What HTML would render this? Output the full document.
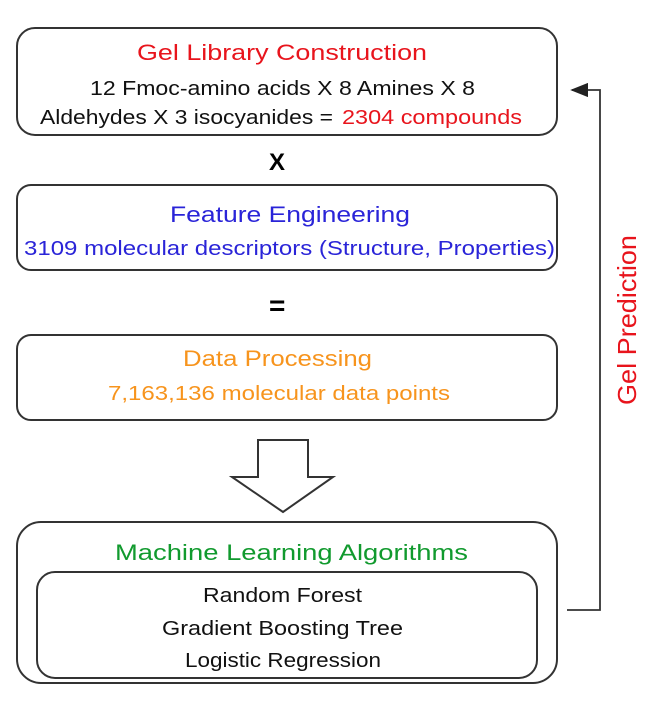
<!DOCTYPE html>
<html><head><style>body{margin:0;background:#fff}</style></head><body>
<svg width="650" height="698" viewBox="0 0 650 698" xmlns="http://www.w3.org/2000/svg" font-family="Liberation Sans, sans-serif">
<defs><marker id="ah" markerWidth="10" markerHeight="8" refX="9" refY="4" orient="auto"><path d="M0,0 L10,4 L0,8 z" fill="#222"/></marker></defs>
<g fill="none" stroke="#333" stroke-width="2">
<rect x="17" y="28" width="540" height="107" rx="18"/>
<rect x="17" y="185" width="540" height="85" rx="14"/>
<rect x="17" y="335" width="540" height="85" rx="14"/>
<rect x="17" y="522" width="540" height="161" rx="24"/>
<rect x="37" y="572" width="500" height="106" rx="18"/>
<path d="M258,440 H308 V477 H333 L283,512 L232,477 H258 Z" fill="#fff"/>
<path d="M567,610 H600 V90 H572" stroke-width="1.8" marker-end="url(#ah)"/>
</g>
<g text-anchor="start" font-size="20">
<text x="137" y="60" fill="#e8141c" textLength="290" lengthAdjust="spacingAndGlyphs" font-size="22">Gel Library Construction</text>
<text x="90" y="95" fill="#111" textLength="385" lengthAdjust="spacingAndGlyphs">12 Fmoc-amino acids X 8 Amines X 8</text>
<text x="40" y="124" fill="#111" textLength="293" lengthAdjust="spacingAndGlyphs">Aldehydes X 3 isocyanides =</text>
<text x="342" y="124" fill="#e8141c" textLength="180" lengthAdjust="spacingAndGlyphs">2304 compounds</text>
<text x="269" y="170" fill="#000" font-weight="bold" font-size="24">X</text>
<text x="170" y="222" fill="#2a24d8" textLength="240" lengthAdjust="spacingAndGlyphs" font-size="22">Feature Engineering</text>
<text x="24" y="255" fill="#2a24d8" textLength="531" lengthAdjust="spacingAndGlyphs">3109 molecular descriptors (Structure, Properties)</text>
<text x="269" y="315" fill="#000" font-weight="bold" font-size="28">=</text>
<text x="183" y="366" fill="#f7941d" textLength="189" lengthAdjust="spacingAndGlyphs" font-size="22">Data Processing</text>
<text x="108" y="400" fill="#f7941d" textLength="342" lengthAdjust="spacingAndGlyphs">7,163,136 molecular data points</text>
<text x="115" y="560" fill="#119a2e" textLength="353" lengthAdjust="spacingAndGlyphs" font-size="22">Machine Learning Algorithms</text>
<text x="203" y="602" fill="#111" textLength="159" lengthAdjust="spacingAndGlyphs">Random Forest</text>
<text x="162" y="635" fill="#111" textLength="241" lengthAdjust="spacingAndGlyphs">Gradient Boosting Tree</text>
<text x="185" y="667" fill="#111" textLength="196" lengthAdjust="spacingAndGlyphs">Logistic Regression</text>
<text transform="translate(636,405) rotate(-90)" fill="#e8141c" font-size="26" textLength="170" lengthAdjust="spacingAndGlyphs">Gel Prediction</text>
</g>
</svg>
</body></html>
